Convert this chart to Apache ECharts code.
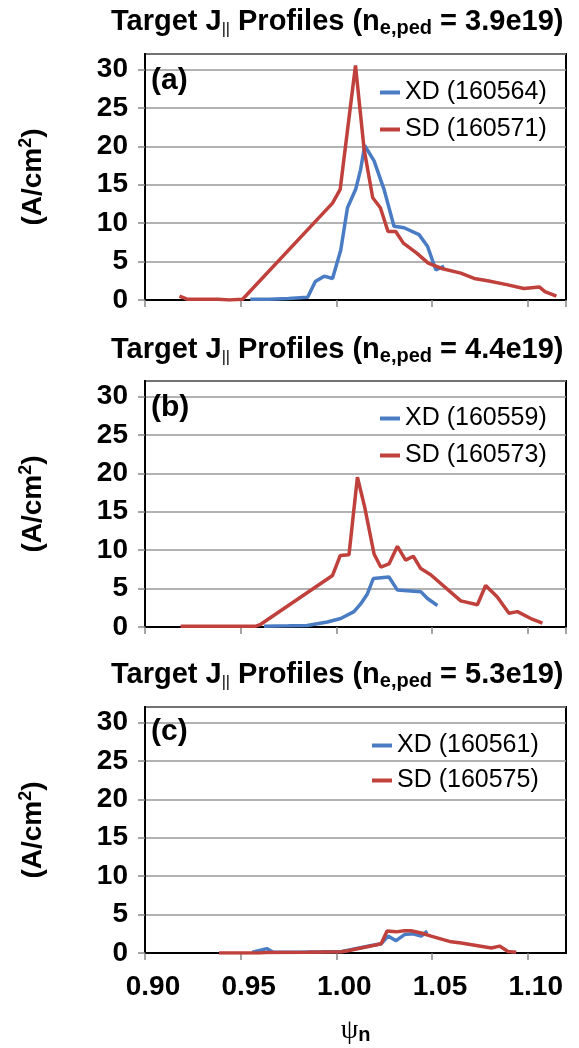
<!DOCTYPE html>
<html>
<head>
<meta charset="utf-8">
<script src="https://cdn.jsdelivr.net/npm/echarts@6/dist/echarts.min.js"></script>
<style>
  html, body { margin: 0; padding: 0; background: #fff; }
  #chart { width: 579px; height: 1048px; }
</style>
</head>
<body>
<div id="chart"></div>
<script>
// Target parallel current density profiles vs normalized flux, three pedestal densities.

// ---- data ----
const densities = ['3.9e19', '4.4e19', '5.3e19'];
const panelTags = ['(a)', '(b)', '(c)'];
const xdShots = ['160564', '160559', '160561'];
const sdShots = ['160571', '160573', '160575'];

const xTickLabels = ['0.90', '0.95', '1.00', '1.05', '1.10'];
const yTickLabels = ['0', '5', '10', '15', '20', '25', '30'];

// (a) XD 160564
const xdA_psi = [0.955, 0.965, 0.975, 0.985, 0.989, 0.9936, 0.998, 1.0023, 1.0058, 1.0101, 1.0127, 1.0148, 1.0197, 1.0249, 1.0301, 1.0354, 1.0432, 1.0476, 1.052, 1.0563];
const xdA_j   = [0.1, 0.1, 0.2, 0.35, 2.4, 3.1, 2.8, 6.5, 12.0, 14.4, 17.0, 20.1, 18.1, 14.4, 9.6, 9.4, 8.5, 7.0, 3.9, 4.4];
// (a) SD 160571
const sdA_psi = [0.918, 0.922, 0.928, 0.934, 0.938, 0.944, 0.951, 0.998, 1.002, 1.010, 1.0145, 1.019, 1.023, 1.027, 1.031, 1.035, 1.042, 1.048, 1.055, 1.065, 1.072, 1.079, 1.089, 1.098, 1.106, 1.109, 1.115];
const sdA_j   = [0.5, 0.1, 0.1, 0.1, 0.1, 0.0, 0.1, 12.6, 14.4, 30.5, 19.6, 13.3, 12.0, 8.9, 8.9, 7.4, 6.1, 4.8, 4.1, 3.5, 2.8, 2.5, 2.0, 1.5, 1.7, 1.1, 0.5];

// (b) XD 160559
const xdB_psi = [0.9622, 0.975, 0.9848, 0.9953, 1.0023, 1.0092, 1.0127, 1.0162, 1.0193, 1.0275, 1.0319, 1.0441, 1.0476, 1.0528];
const xdB_j   = [0.1, 0.15, 0.2, 0.65, 1.1, 2.0, 3.0, 4.3, 6.3, 6.5, 4.8, 4.6, 3.7, 2.8];
// (b) SD 160573
const sdB_psi = [0.9186, 0.923, 0.927, 0.932, 0.936, 0.941, 0.945, 0.949, 0.954, 0.958, 0.9605, 0.998, 1.002, 1.0066, 1.011, 1.0148, 1.0197, 1.0232, 1.0275, 1.0319, 1.0362, 1.0402, 1.0441, 1.0493, 1.065, 1.0737, 1.078, 1.0841, 1.0902, 1.0946, 1.1016, 1.1077];
const sdB_j   = [0.1, 0.1, 0.1, 0.1, 0.1, 0.1, 0.1, 0.1, 0.1, 0.1, 0.35, 6.7, 9.3, 9.4, 19.5, 15.6, 9.5, 7.8, 8.2, 10.5, 8.7, 9.2, 7.6, 6.8, 3.4, 2.9, 5.4, 3.9, 1.8, 2.0, 1.1, 0.5];

// (c) XD 160561
const xdC_psi = [0.9561, 0.9636, 0.967, 0.98, 0.9925, 1.003, 1.01, 1.017, 1.0234, 1.027, 1.0312, 1.0356, 1.04, 1.0443, 1.0475];
const xdC_j   = [0.1, 0.57, 0.1, 0.1, 0.15, 0.2, 0.55, 0.9, 1.2, 2.2, 1.6, 2.4, 2.5, 2.2, 2.85];
// (c) SD 160575
const sdC_psi = [0.9387, 0.943, 0.9474, 0.9596, 0.964, 0.985, 1.0025, 1.006, 1.0129, 1.0199, 1.0234, 1.0265, 1.0312, 1.0356, 1.039, 1.0443, 1.0495, 1.06, 1.0652, 1.081, 1.0853, 1.0897, 1.094];
const sdC_j   = [0.0, 0.0, 0.0, 0.0, 0.05, 0.1, 0.15, 0.3, 0.65, 1.0, 1.2, 2.85, 2.75, 2.9, 2.9, 2.6, 2.2, 1.45, 1.3, 0.65, 0.9, 0.2, 0.1];

// ---- layout & style ----
const FONT = "'Liberation Sans', Arial, Helvetica, sans-serif";
const BLUE = '#4a7cc4';
const RED = '#c0403c';
const gridTops = [54, 381, 707];
const gridHeight = 246;
const legendTops = [80, 406, 733];
const legendLefts = [380, 380, 372];
const legendGaps = [12, 12, 10];
const tagTops = [66, 393, 717];
const titleTops = [6, 334, 659];

const pairs = (xs, ys) => xs.map((x, i) => [x, ys[i]]);
const xdData = [pairs(xdA_psi, xdA_j), pairs(xdB_psi, xdB_j), pairs(xdC_psi, xdC_j)];
const sdData = [pairs(sdA_psi, sdA_j), pairs(sdB_psi, sdB_j), pairs(sdC_psi, sdC_j)];

const titleRich = {
  par: { fontSize: 16, fontWeight: 'normal', lineHeight: 25, verticalAlign: 'bottom', fontFamily: FONT, color: '#000' },
  sub: { fontSize: 20, fontWeight: 'bold', lineHeight: 14, verticalAlign: 'bottom', fontFamily: FONT, color: '#000' }
};

const option = {
  backgroundColor: '#fff',
  animation: false,
  title: [
    ...densities.map((d, i) => ({
      text: 'Target J{par|||} Profiles (n{sub|e,ped} = ' + d + ')',
      left: 111,
      top: titleTops[i],
      padding: 0,
      textStyle: { fontSize: 29, fontWeight: 'bold', fontFamily: FONT, color: '#000', lineHeight: 32, rich: titleRich }
    })),
    ...panelTags.map((t, i) => ({
      text: t,
      left: 151,
      top: tagTops[i],
      padding: 0,
      textStyle: { fontSize: 30, fontWeight: 'bold', fontFamily: FONT, color: '#000', lineHeight: 30 }
    }))
  ],
  legend: densities.map((d, i) => ({
    data: ['XD (' + xdShots[i] + ')', 'SD (' + sdShots[i] + ')'],
    orient: 'vertical',
    left: legendLefts[i],
    top: legendTops[i],
    padding: 0,
    itemGap: legendGaps[i],
    itemWidth: 20,
    itemHeight: 4,
    icon: 'rect',
    textStyle: { fontSize: 25, fontFamily: FONT, color: '#000', lineHeight: 25 }
  })),
  grid: densities.map((d, i) => ({
    left: 145, right: 13, top: gridTops[i], height: gridHeight,
    show: true, borderColor: '#000', borderWidth: 2, backgroundColor: 'transparent'
  })),
  xAxis: densities.map((d, i) => ({
    gridIndex: i,
    type: 'value',
    min: 0.9, max: 1.12, interval: 0.05,
    axisLine: { show: true, lineStyle: { color: '#000', width: 2 } },
    axisTick: { show: true, length: 7, lineStyle: { color: '#888', width: 1.5 } },
    splitLine: { show: false },
    axisLabel: {
      show: i === 2,
      showMaxLabel: false,
      margin: 20,
      padding: [0, 0, 0, 16],
      fontSize: 28, fontWeight: 'bold', fontFamily: FONT, color: '#000',
      formatter: v => xTickLabels.find(s => Math.abs(parseFloat(s) - v) < 1e-6) || ''
    },
    name: i === 2 ? '{psi|ψ}{n|n}' : '',
    nameLocation: 'middle',
    nameGap: 64,
    nameTextStyle: {
      rich: {
        psi: { fontSize: 28, fontFamily: "'Liberation Serif', 'DejaVu Serif', serif", color: '#000', lineHeight: 28, verticalAlign: 'top' },
        n: { fontSize: 20, fontWeight: 'bold', fontFamily: FONT, color: '#000', lineHeight: 20, verticalAlign: 'bottom', padding: [10, 0, 0, 0] }
      }
    }
  })),
  yAxis: densities.map((d, i) => ({
    gridIndex: i,
    type: 'value',
    min: 0, max: 32, interval: 5,
    axisLine: { show: true, lineStyle: { color: '#000', width: 2 } },
    axisTick: { show: true, length: 7, lineStyle: { color: '#888', width: 1.5 } },
    splitLine: { show: true, lineStyle: { color: '#999', width: 1.5 } },
    axisLabel: {
      showMaxLabel: false,
      margin: 17,
      fontSize: 28, fontWeight: 'bold', fontFamily: FONT, color: '#000',
      formatter: v => yTickLabels.find(s => Number(s) === v) || ''
    },
    name: '(A/cm{sup|2})',
    nameLocation: 'middle',
    nameRotate: 90,
    nameGap: 96,
    nameTextStyle: {
      fontSize: 28, fontWeight: 'bold', fontFamily: FONT, color: '#000', lineHeight: 32,
      rich: { sup: { fontSize: 18, fontWeight: 'bold', fontFamily: FONT, color: '#000', lineHeight: 20, verticalAlign: 'top' } }
    }
  })),
  series: densities.flatMap((d, i) => [
    {
      name: 'XD (' + xdShots[i] + ')',
      type: 'line',
      xAxisIndex: i, yAxisIndex: i,
      data: xdData[i],
      showSymbol: false,
      color: BLUE,
      lineStyle: { width: 3.5, color: BLUE },
      z: 3
    },
    {
      name: 'SD (' + sdShots[i] + ')',
      type: 'line',
      xAxisIndex: i, yAxisIndex: i,
      data: sdData[i],
      showSymbol: false,
      color: RED,
      lineStyle: { width: 3.5, color: RED },
      z: 4
    }
  ])
};

const chart = echarts.init(document.getElementById('chart'), null, { renderer: 'canvas' });
chart.setOption(option);
</script>
</body>
</html>
